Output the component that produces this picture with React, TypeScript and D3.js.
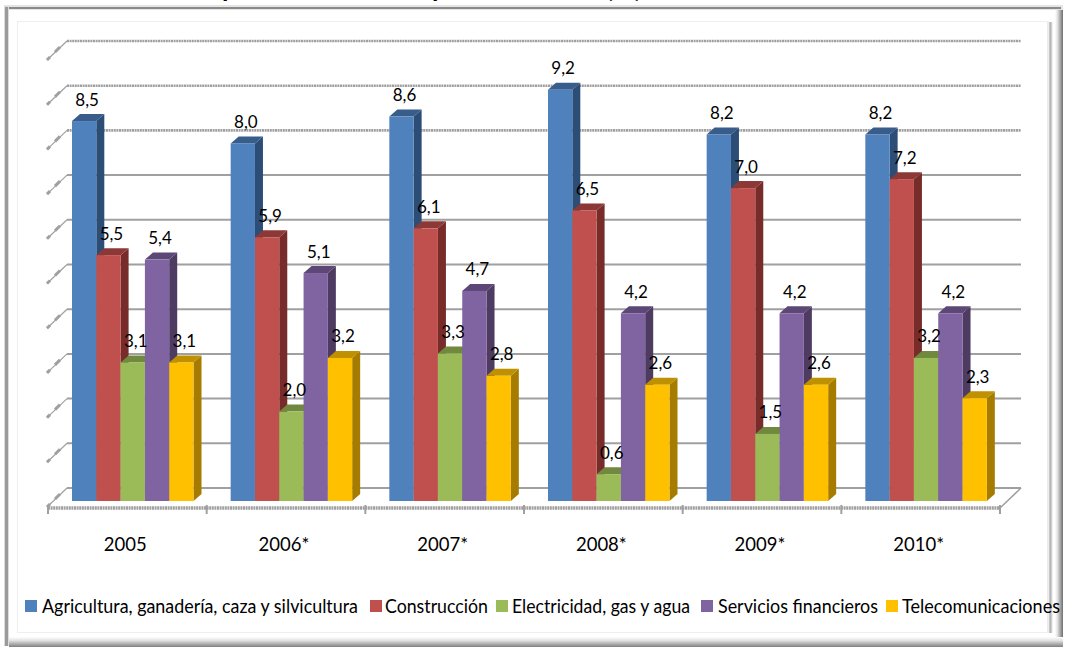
import React from "react";
import * as d3 from "d3";

const WIDTH = 1065;
const HEIGHT = 648;

const categories = ["2005", "2006*", "2007*", "2008*", "2009*", "2010*"];
const seriesNames = [
  "Agricultura, ganadería, caza y silvicultura",
  "Construcción",
  "Electricidad, gas y agua",
  "Servicios financieros",
  "Telecomunicaciones",
];
const agricultura = [8.5, 8.0, 8.6, 9.2, 8.2, 8.2];
const construccion = [5.5, 5.9, 6.1, 6.5, 7.0, 7.2];
const electricidad = [3.1, 2.0, 3.3, 0.6, 1.5, 3.2];
const servicios = [5.4, 5.1, 4.7, 4.2, 4.2, 4.2];
const telecomunicaciones = [3.1, 3.2, 2.8, 2.6, 2.6, 2.3];
const allSeries = [agricultura, construccion, electricidad, servicios, telecomunicaciones];
const gridTicks = [0, 1, 2, 3, 4, 5, 6, 7, 8, 9, 10];
const hatchedTicks = [8, 9, 10];

const faceColors = ["#4f81bd", "#c0504d", "#9bbb59", "#8064a2", "#ffc000"];
const topColors = ["#385d8a", "#8c3836", "#71893f", "#5c4776", "#bf9000"];
const sideColors = ["#2c4d75", "#772c2a", "#5f7530", "#4d3b62", "#a67c00"];

const legendSwatchX = [25, 370, 496, 701, 886];
const legendTextX = [42, 385, 512, 718, 902];
const legendTextW = [316, 103, 178, 160, 158];

const FONT = "Lato, Carlito, 'Open Sans', sans-serif";
const DX = 8;
const DY = 7;
const WALL_DX = 20;
const WALL_DY = 20;

const xGroup = d3.scaleBand<string>().domain(categories).range([48, 1000]);
const xBar = d3.scaleBand<number>().domain(d3.range(seriesNames.length)).range([24, 145.5]);
// Front plane of the bars
const y = d3.scaleLinear().domain([0, 10]).range([501, 54]);
// Back wall grid
const yWall = d3.scaleLinear().domain([0, 10]).range([488, 41]);

export default function App() {
  return (
    <svg
      width={WIDTH}
      height={HEIGHT}
      style={{ position: "absolute", left: 0, top: 0, background: "#fff" }}
      fontFamily={FONT}
    >
      <defs>
        <linearGradient id="rightEdge" x1="0" x2="1" y1="0" y2="0">
          <stop offset="0" stopColor="#ffffff" />
          <stop offset="0.3" stopColor="#e2e2e2" />
          <stop offset="1" stopColor="#6f6f6f" />
        </linearGradient>
        <linearGradient id="bottomEdge" x1="0" x2="0" y1="0" y2="1">
          <stop offset="0" stopColor="#ffffff" />
          <stop offset="0.35" stopColor="#e2e2e2" />
          <stop offset="1" stopColor="#7f7f7f" />
        </linearGradient>
        <linearGradient id="innerRight" x1="0" x2="1" y1="0" y2="0">
          <stop offset="0" stopColor="#f4f4f4" />
          <stop offset="0.6" stopColor="#b4b4b4" />
          <stop offset="1" stopColor="#ffffff" />
        </linearGradient>
      </defs>

      {/* Title, cut off by the top of the picture */}
      <g fontSize={26} fontWeight={700} fill="#000">
        <text x={222} y={-3}>p</text>
        <text x={432} y={-3}>p</text>
        <text x={606} y={-3}>(%)</text>
      </g>

      {/* Frame */}
      <rect x={1055} y={8} width={8} height={636} fill="url(#rightEdge)" />
      <rect x={1047} y={22} width={6} height={611} fill="url(#innerRight)" />
      <rect x={9} y={637} width={1054} height={10} fill="url(#bottomEdge)" />
      <rect x={4} y={5} width={1059} height={5} fill="#e4e4e4" />
      <rect x={5} y={7} width={1056} height={2} fill="#8a8a8a" />
      <rect x={4} y={6} width={5} height={640} fill="#dcdcdc" />
      <rect x={5} y={7} width={3} height={639} fill="#9a9a9a" />
      <rect x={17.5} y={21.5} width={1031} height={611} fill="none" stroke="#eeeeee" />

      {/* Wall grid */}
      {gridTicks.map((t) => {
        const yy = yWall(t);
        const x0 = 47;
        const y0 = yy + WALL_DY - 1;
        return (
          <g key={t} stroke="#a0a0a0" fill="none">
            <line
              x1={67}
              x2={1021}
              y1={yy}
              y2={yy}
              strokeWidth={hatchedTicks.includes(t) ? 2.6 : 2}
              strokeDasharray={hatchedTicks.includes(t) ? "2 0.6" : undefined}
            />
            <line x1={x0} x2={67} y1={y0} y2={yy} strokeWidth={1.2} />
            <line x1={x0 + 8} x2={x0 + 13} y1={y0 - 8} y2={y0 - 13} strokeWidth={3} />
            <line x1={x0} x2={x0 + 3} y1={y0} y2={y0 - 3} strokeWidth={3} />
          </g>
        );
      })}

      {/* Floor axis */}
      <g stroke="#a0a0a0" fill="none">
        <line x1={48} x2={1000} y1={508} y2={508} strokeWidth={3.4} strokeDasharray="2 0.6" />
        <line x1={1000} x2={1000 + WALL_DX + 1} y1={508} y2={508 - WALL_DY} strokeWidth={1.5} />
        {[...categories.map((c) => xGroup(c)!), 1000].map((x, i) => (
          <line key={i} x1={x} x2={x} y1={505} y2={514} strokeWidth={2} />
        ))}
      </g>

      {/* Bars */}
      {categories.map((c, ci) => (
        <g key={c} transform={`translate(${xGroup(c)},0)`}>
          {allSeries.map((vals, si) => {
            const x0 = xBar(si)!;
            const w = xBar.bandwidth();
            const top = y(vals[ci]);
            const base = y(0);
            return (
              <g key={si}>
                <path
                  d={`M${x0 + w},${top}L${x0 + w + DX},${top - DY}L${x0 + w + DX},${base - DY}L${x0 + w},${base}Z`}
                  fill={sideColors[si]}
                />
                <path
                  d={`M${x0},${top}L${x0 + DX},${top - DY}L${x0 + w + DX},${top - DY}L${x0 + w},${top}Z`}
                  fill={topColors[si]}
                />
                <rect x={x0} y={top} width={w} height={base - top} fill={faceColors[si]} />
              </g>
            );
          })}
        </g>
      ))}

      {/* Data labels */}
      {categories.map((c, ci) =>
        allSeries.map((vals, si) => (
          <text
            key={`${c}-${si}`}
            x={xGroup(c)! + xBar(si)! + xBar.bandwidth() / 2 + 3}
            y={y(vals[ci]) - 15.5}
            textAnchor="middle"
            fontSize={17}
            fill="#000"
          >
            {vals[ci].toFixed(1).replace(".", ",")}
          </text>
        ))
      )}

      {/* Category labels */}
      {categories.map((c) => (
        <text
          key={c}
          x={xGroup(c)! + xGroup.bandwidth() / 2 - 2}
          y={550.5}
          textAnchor="middle"
          fontSize={18.5}
          fill="#000"
        >
          {c}
        </text>
      ))}

      {/* Legend */}
      {seriesNames.map((name, i) => (
        <g key={name}>
          <rect x={legendSwatchX[i]} y={600} width={12} height={12} fill={faceColors[i]} />
          <text
            x={legendTextX[i]}
            y={612.5}
            fontSize={18.5}
            fill="#000"
            textLength={legendTextW[i]}
            lengthAdjust="spacingAndGlyphs"
          >
            {name}
          </text>
        </g>
      ))}
    </svg>
  );
}
